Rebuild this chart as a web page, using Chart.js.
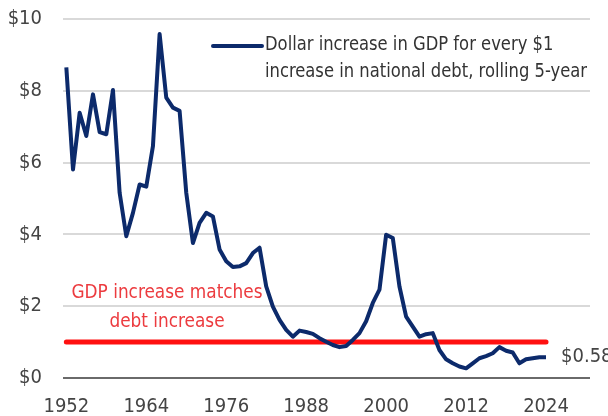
<!DOCTYPE html>
<html><head><meta charset="utf-8">
<script src="https://cdn.jsdelivr.net/npm/chart.js@4.4.1/dist/chart.umd.min.js"></script>
<style>html,body{margin:0;padding:0;background:#fff;}canvas{display:block;}</style>
</head><body>
<canvas id="c" width="608" height="416"></canvas>
<script>
const years = [1952,1953,1954,1955,1956,1957,1958,1959,1960,1961,1962,1963,1964,1965,1966,1967,1968,1969,1970,1971,1972,1973,1974,1975,1976,1977,1978,1979,1980,1981,1982,1983,1984,1985,1986,1987,1988,1989,1990,1991,1992,1993,1994,1995,1996,1997,1998,1999,2000,2001,2002,2003,2004,2005,2006,2007,2008,2009,2010,2011,2012,2013,2014,2015,2016,2017,2018,2019,2020,2021,2022,2023,2024];
const gdpPerDebt = [8.65,5.81,7.39,6.74,7.90,6.85,6.79,8.02,5.16,3.95,4.60,5.39,5.33,6.46,9.58,7.81,7.53,7.44,5.16,3.76,4.32,4.60,4.50,3.58,3.25,3.09,3.11,3.20,3.48,3.63,2.55,1.99,1.62,1.34,1.15,1.32,1.28,1.23,1.11,1.01,0.92,0.86,0.89,1.06,1.25,1.58,2.09,2.46,3.99,3.90,2.55,1.71,1.43,1.15,1.22,1.25,0.78,0.52,0.41,0.32,0.27,0.41,0.55,0.61,0.69,0.86,0.76,0.71,0.41,0.52,0.55,0.58,0.58];
const parityYears = [1952, 2024];
const parityValues = [1, 1];
const xTicks = [1952,1964,1976,1988,2000,2012,2024];
const yTicks = [0,2,4,6,8,10];
const legendLines = ["Dollar increase in GDP for every $1","increase in national debt, rolling 5-year"];
const noteLines = ["GDP increase matches","debt increase"];
const endLabel = "$0.58";

const FONT = '"DejaVu Sans Condensed", "DejaVu Sans", sans-serif';
const NAVY = '#0c2a6b';
const RED = '#ff1010';

function squeezeText(ctx, txt, x, y, sx){
  ctx.save();
  ctx.translate(x, y);
  ctx.scale(sx, 1);
  ctx.fillText(txt, 0, 0);
  ctx.restore();
}

const overlay = {
  id:'overlay',
  afterDatasetsDraw(chart){
    const ctx = chart.ctx;
    const x = chart.scales.x, y = chart.scales.y;
    ctx.save();
    // legend
    ctx.strokeStyle = NAVY; ctx.lineWidth = 4; ctx.lineCap='round';
    ctx.beginPath(); ctx.moveTo(213,46); ctx.lineTo(262,46); ctx.stroke();
    ctx.font = '20px '+FONT; ctx.fillStyle = '#333'; ctx.textBaseline='middle'; ctx.textAlign='left';
    squeezeText(ctx, legendLines[0], 265, 45, 0.91);
    squeezeText(ctx, legendLines[1], 265, 72, 0.91);
    // note
    ctx.fillStyle = '#ec3b3f'; ctx.textAlign='center';
    squeezeText(ctx, noteLines[0], 167, 293, 0.94);
    squeezeText(ctx, noteLines[1], 167, 322, 0.94);
    // end label
    const last = gdpPerDebt.length-1;
    ctx.fillStyle = '#444'; ctx.textAlign='left';
    ctx.fillText(endLabel, x.getPixelForValue(years[last]) + 15, y.getPixelForValue(gdpPerDebt[last]));
    ctx.restore();
  }
};

new Chart(document.getElementById('c'), {
  type:'line',
  data:{
    datasets:[
      {label:'parity', data: parityYears.map((v,i)=>({x:v,y:parityValues[i]})), borderColor:RED, borderWidth:5, pointRadius:0, borderCapStyle:'round', order:2},
      {label:legendLines.join(' '), data: years.map((v,i)=>({x:v,y:gdpPerDebt[i]})), borderColor:NAVY, borderWidth:4, pointRadius:0, tension:0, borderJoinStyle:'round', order:1}
    ]
  },
  options:{
    responsive:false, animation:false,
    layout:{padding:{top:19,right:18,bottom:0,left:0}},
    plugins:{legend:{display:false}, tooltip:{enabled:false}},
    scales:{
      x:{type:'linear', min:1951.5, max:2030.6,
        afterBuildTicks(s){ s.ticks = xTicks.map(v=>({value:v})); },
        afterFit(s){ s.height = 38; s.paddingLeft = 0; s.paddingRight = 0; },
        grid:{display:false, drawTicks:false},
        border:{display:false},
        ticks:{padding:17, color:'#444', font:{family:FONT, size:20}, maxRotation:0, autoSkip:false, callback:v=>String(v)}
      },
      y:{min:0, max:10,
        afterBuildTicks(s){ s.ticks = yTicks.map(v=>({value:v})); },
        afterFit(s){ s.width = 63; s.paddingTop = 0; s.paddingBottom = 0; },
        grid:{drawTicks:false, lineWidth:2, color:ctx=>ctx.tick && ctx.tick.value===0 ? '#6a6a6a' : '#d9d9d9'},
        border:{display:false},
        ticks:{padding:21, color:'#444', font:{family:FONT, size:20}, callback:v=>'$'+v}
      }
    }
  },
  plugins:[overlay]
});
</script>
</body></html>
